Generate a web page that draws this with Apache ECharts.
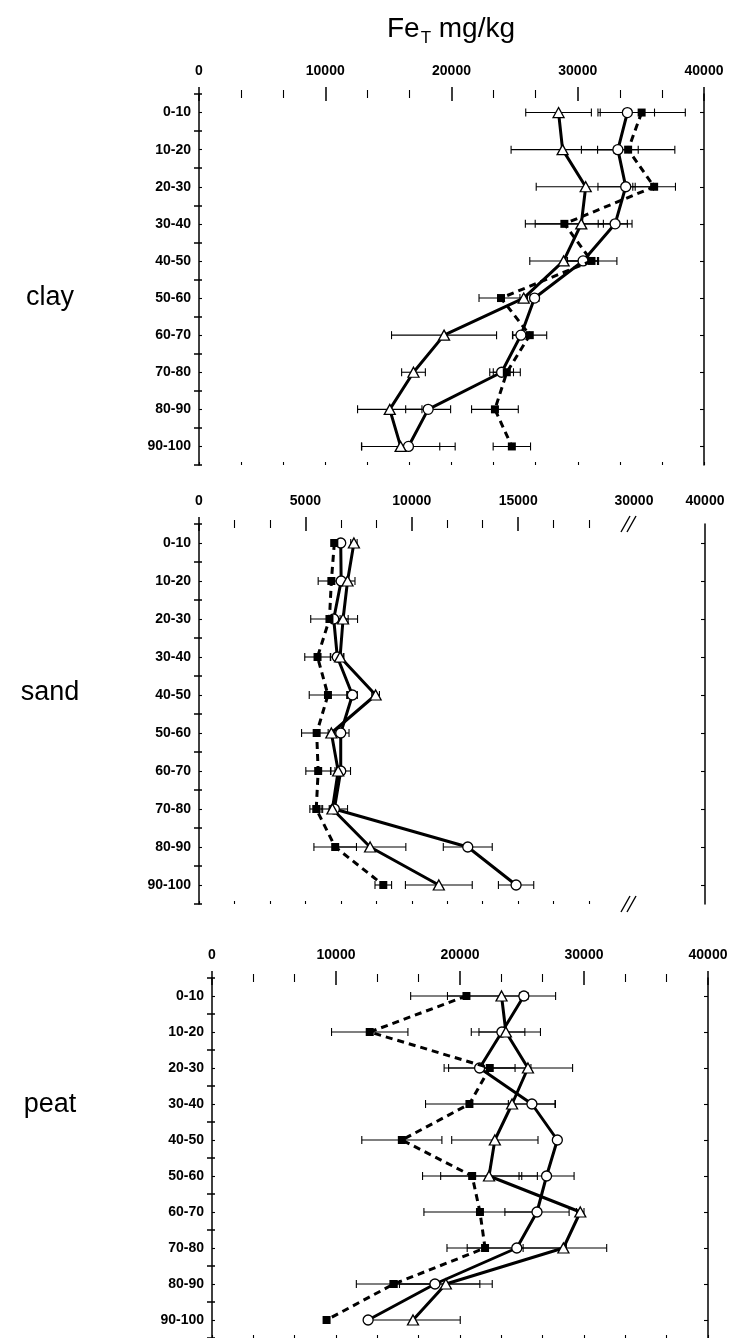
<!DOCTYPE html>
<html><head><meta charset="utf-8">
<script src="https://cdn.jsdelivr.net/npm/echarts@6/dist/echarts.min.js"></script>
<style>html,body{margin:0;padding:0;background:#fff}#c{width:731px;height:1338px}</style>
</head><body><div id="c"></div>
<script>
// ---------------- data ----------------
const depths = ['0-10','10-20','20-30','30-40','40-50','50-60','60-70','70-80','80-90','90-100'];

const claySquare      = [35060, 33990, 36050, 28940, 31090, 23920, 26200, 24380, 23440, 24780];
const claySquareErr   = [3460, 3700, 1690, 3090, 2010, 1740, 1340, 1070, 1850, 1480];
const clayCircle      = [33930, 33180, 33800, 32960, 30420, 26580, 25500, 23970, 18150, 16590];
const clayCircleErr   = [2150, 1610, 2200, 1340, 1230, 350, 670, 940, 1780, 3700];
const clayTriangle    = [28480, 28800, 30630, 30280, 28880, 25720, 19410, 16990, 15110, 15970];
const clayTriangleErr = [2600, 4080, 3920, 3650, 2680, 300, 4160, 940, 2550, 3100];

const sandSquare      = [6360, 6220, 6130, 5570, 6060, 5530, 5600, 5510, 6400, 8660];
const sandSquareErr   = [150, 620, 880, 600, 880, 710, 580, 300, 1000, 390];
const sandCircle      = [6660, 6680, 6330, 6500, 7210, 6660, 6660, 6360, 12630, 14900];
const sandCircleErr   = [120, 150, 300, 310, 230, 390, 460, 620, 1150, 830];
const sandTriangle    = [7280, 6980, 6770, 6630, 8300, 6220, 6540, 6270, 8040, 11270];
const sandTriangleErr = [150, 350, 680, 150, 180, 150, 150, 150, 1680, 1570];

const peatSquare      = [20520, 12720, 22400, 20760, 15310, 20980, 21610, 22020, 14660, 9240];
const peatSquareErr   = [4500, 3080, 3320, 3540, 3230, 4000, 4520, 3070, 3020, 0];
const peatCircle      = [25150, 23380, 21580, 25800, 27850, 26980, 26210, 24580, 17980, 12590];
const peatCircleErr   = [330, 1850, 2860, 1900, 220, 2220, 2590, 4000, 3620, 150];
const peatTriangle    = [23350, 23700, 25480, 24200, 22810, 22340, 29700, 28340, 18860, 16210];
const peatTriangleErr = [4360, 2790, 3600, 3460, 3480, 3900, 300, 3490, 3740, 3810];

// tick labels
const stdTickLabels  = ['0','10000','20000','30000','40000'];
const sandTickLabels = ['0','5000','10000','15000','30000','40000'];
// where the sand tick labels sit on its (broken) linear scale
const sandTickAt     = [0, 5000, 10000, 15000, 20440, 23778];
const sandMajorTicks = [0, 5000, 10000, 15000];
const sandMinorTicks = [1667, 3333, 6667, 8333, 11667, 13333, 16667, 18333];
const sandMax = 23778;
const sandBreakAt = 20206;

// ---------------- layout ----------------
const grids = [
  {left:199, top:94,  width:505, height:371},
  {left:199, top:524, width:506, height:380},
  {left:212, top:978, width:496, height:364}
];

const FONT = 'Liberation Sans, Arial, sans-serif';
const lab = {color:'#000', fontFamily:FONT, fontWeight:'bold', fontSize:14};
const L15 = {color:'#000', width:1.5};
const L1 = {color:'#000', width:1.1};

const xAxes = [], yAxes = [], series = [];
const mainX = [], mainY = [];

function stdX(g) {
  const base = {type:'value', gridIndex:g, min:0, max:40000, interval:10000, splitLine:{show:false}};
  mainX[g] = xAxes.length;
  xAxes.push({...base, position:'top', axisLine:{onZero:false, lineStyle:L15},
    axisTick:{show:true, length:7, lineStyle:L15}, minorTick:{show:true, splitNumber:3, length:4, lineStyle:L1},
    axisLabel:{...lab, margin:16, formatter:(v)=>stdTickLabels[Math.round(v/10000)]}});
  xAxes.push({...base, position:'top', axisLine:{show:false, onZero:false},
    axisTick:{show:true, inside:true, length:7, lineStyle:L15}, minorTick:{show:true, splitNumber:3, length:4, lineStyle:L1},
    axisLabel:{show:false}});
  xAxes.push({...base, position:'bottom', axisLine:{onZero:false, lineStyle:L15},
    axisTick:{show:true, inside:true, length:3, lineStyle:L1}, minorTick:{show:true, splitNumber:3, length:3, lineStyle:L1},
    axisLabel:{show:false}});
}
function sandX(g) {
  const base = {type:'value', gridIndex:g, min:0, max:sandMax, splitLine:{show:false}};
  mainX[g] = xAxes.length;
  xAxes.push({...base, position:'top', axisLine:{onZero:false, lineStyle:L15},
    axisTick:{show:true, length:7, lineStyle:L15, customValues:sandMajorTicks},
    axisLabel:{...lab, margin:16, customValues:sandTickAt,
      formatter:(v)=>{ const i = sandTickAt.indexOf(v); return i>=0 ? sandTickLabels[i] : ''; }}});
  xAxes.push({...base, position:'top', axisLine:{show:false, onZero:false},
    axisTick:{show:true, inside:true, length:7, lineStyle:L15, customValues:sandMajorTicks}, axisLabel:{show:false}});
  xAxes.push({...base, position:'top', axisLine:{show:false, onZero:false},
    axisTick:{show:true, length:4, lineStyle:L1, customValues:sandMinorTicks}, axisLabel:{show:false}});
  xAxes.push({...base, position:'top', axisLine:{show:false, onZero:false},
    axisTick:{show:true, inside:true, length:4, lineStyle:L1, customValues:sandMinorTicks}, axisLabel:{show:false}});
  xAxes.push({...base, position:'bottom', axisLine:{onZero:false, lineStyle:L15},
    axisTick:{show:true, inside:true, length:3, lineStyle:L1, customValues:sandMajorTicks.concat(sandMinorTicks)},
    axisLabel:{show:false}});
}
function catY(g) {
  const base = {type:'category', gridIndex:g, data:depths, inverse:true, splitLine:{show:false}};
  mainY[g] = yAxes.length;
  yAxes.push({...base, position:'left', axisLine:{onZero:false, lineStyle:L15},
    axisTick:{show:true, interval:0, length:5, lineStyle:L15}, axisLabel:{...lab, interval:0, margin:8}});
  yAxes.push({...base, position:'left', axisLine:{show:false, onZero:false},
    axisTick:{show:true, interval:0, inside:true, length:3, lineStyle:L15}, axisLabel:{show:false, interval:0}});
  yAxes.push({...base, position:'left', axisLine:{show:false, onZero:false},
    axisTick:{show:true, interval:0, inside:true, alignWithLabel:true, length:3, lineStyle:L1}, axisLabel:{show:false, interval:0}});
  yAxes.push({...base, position:'right', axisLine:{onZero:false, lineStyle:L15},
    axisTick:{show:true, interval:0, inside:true, alignWithLabel:true, length:4, lineStyle:L1}, axisLabel:{show:false, interval:0}});
}

function errRender(params, api) {
  const idx = api.value(0);
  const lo = api.coord([api.value(1), idx]);
  const hi = api.coord([api.value(2), idx]);
  if (Math.abs(hi[0]-lo[0]) < 0.5) return null;
  const h = 4;
  const st = {stroke:'#000', lineWidth:1.1};
  return {type:'group', children:[
    {type:'line', shape:{x1:lo[0], y1:lo[1], x2:hi[0], y2:hi[1]}, style:st},
    {type:'line', shape:{x1:lo[0], y1:lo[1]-h, x2:lo[0], y2:lo[1]+h}, style:st},
    {type:'line', shape:{x1:hi[0], y1:hi[1]-h, x2:hi[0], y2:hi[1]+h}, style:st}
  ]};
}

const marker = {
  square:   {symbol:'rect', symbolSize:8, itemStyle:{color:'#000', borderColor:'#000', borderWidth:0}},
  circle:   {symbol:'circle', symbolSize:10, itemStyle:{color:'#fff', borderColor:'#000', borderWidth:1.3}},
  triangle: {symbol:'triangle', symbolSize:[11,10], itemStyle:{color:'#fff', borderColor:'#000', borderWidth:1.3}}
};

function addPanel(g, sets) {
  sets.forEach(([kind, vals, errs]) => {
    series.push({type:'custom', xAxisIndex:mainX[g], yAxisIndex:mainY[g], renderItem:errRender,
      encode:{x:[1,2], y:0}, silent:true, z:1,
      data: vals.map((v,i)=>[i, v-errs[i], v+errs[i]])});
  });
  sets.forEach(([kind, vals]) => {
    series.push({type:'line', xAxisIndex:mainX[g], yAxisIndex:mainY[g], z:kind==='square'?3:2,
      data: vals.map((v,i)=>[v, depths[i]]), showAllSymbol:true, silent:true,
      ...marker[kind],
      lineStyle:{color:'#000', width:3, type: kind==='square' ? [7,5] : 'solid'}});
  });
}

stdX(0); catY(0);
sandX(1); catY(1);
stdX(2); catY(2);

addPanel(0, [['square', claySquare, claySquareErr], ['circle', clayCircle, clayCircleErr], ['triangle', clayTriangle, clayTriangleErr]]);
addPanel(1, [['square', sandSquare, sandSquareErr], ['circle', sandCircle, sandCircleErr], ['triangle', sandTriangle, sandTriangleErr]]);
addPanel(2, [['square', peatSquare, peatSquareErr], ['circle', peatCircle, peatCircleErr], ['triangle', peatTriangle, peatTriangleErr]]);

const textG = [
  {type:'text', x:451, y:29, style:{text:'{a|Fe}{b|T}{a| mg/kg}', textAlign:'center', textVerticalAlign:'middle',
    rich:{a:{fontSize:28, fontFamily:FONT, fill:'#000', lineHeight:32},
          b:{fontSize:17, fontFamily:FONT, fill:'#000', lineHeight:32, verticalAlign:'bottom', padding:[0,0,-2,1]}}}},
  {type:'text', x:50, y:298, style:{text:'clay', font:'27px '+FONT, fill:'#000', textAlign:'center', textVerticalAlign:'middle'}},
  {type:'text', x:50, y:693, style:{text:'sand', font:'27px '+FONT, fill:'#000', textAlign:'center', textVerticalAlign:'middle'}},
  {type:'text', x:50, y:1105, style:{text:'peat', font:'27px '+FONT, fill:'#000', textAlign:'center', textVerticalAlign:'middle'}}
];

const chart = echarts.init(document.getElementById('c'), null, {renderer:'canvas'});
chart.setOption({
  animation:false,
  backgroundColor:'#fff',
  grid: grids.map(g=>({...g, containLabel:false})),
  xAxis: xAxes, yAxis: yAxes, series: series,
  graphic: textG
});

// axis-break marks on the sand panel
const xb = chart.convertToPixel({xAxisIndex: mainX[1]}, sandBreakAt);
const breakMarks = [];
[grids[1].top, grids[1].top + grids[1].height].forEach(y => {
  breakMarks.push({type:'rect', shape:{x:xb-4, y:y-1.5, width:5, height:3}, style:{fill:'#fff'}, z:50});
  breakMarks.push({type:'line', shape:{x1:xb-8, y1:y+8, x2:xb+1, y2:y-8}, style:{stroke:'#000', lineWidth:1.4}, z:51});
  breakMarks.push({type:'line', shape:{x1:xb-2, y1:y+8, x2:xb+7, y2:y-8}, style:{stroke:'#000', lineWidth:1.4}, z:51});
});
chart.setOption({graphic: textG.concat(breakMarks)});
</script>
</body></html>
